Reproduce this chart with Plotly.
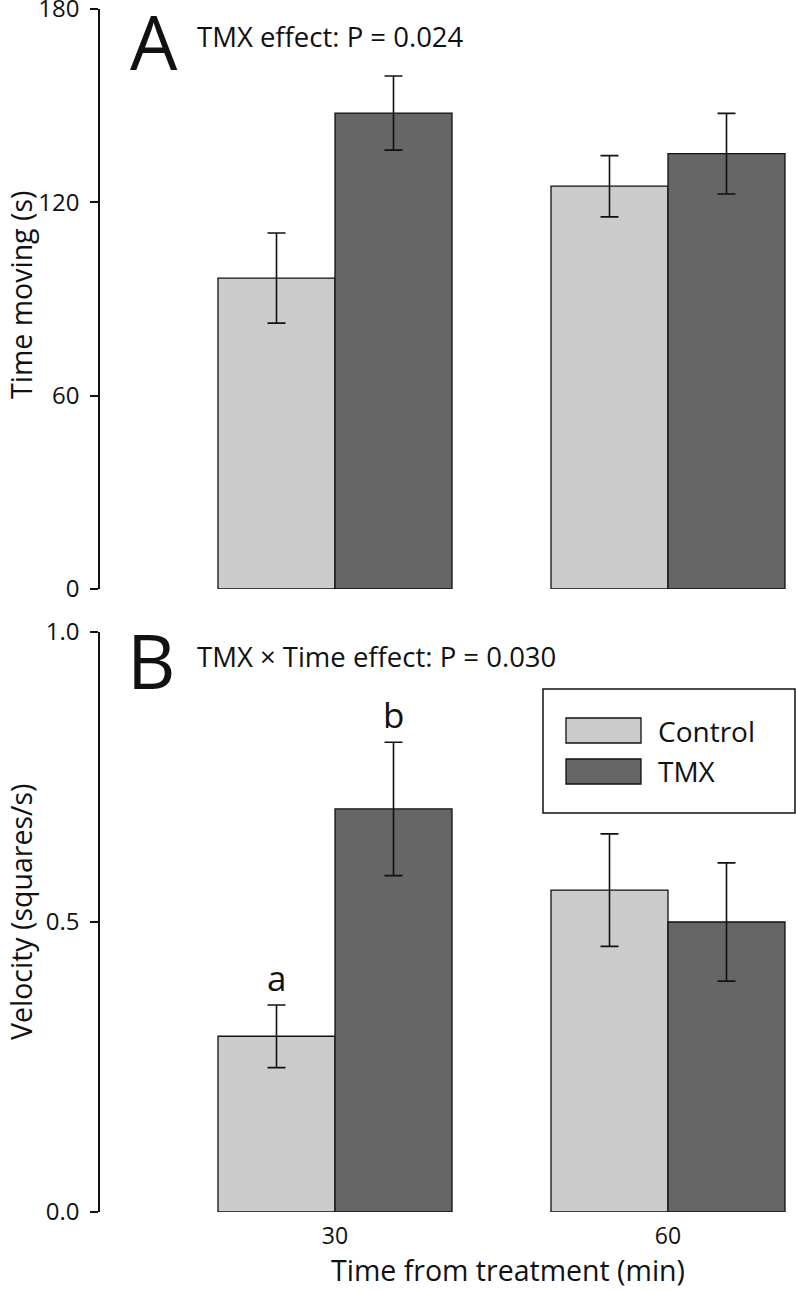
import plotly.graph_objects as go

# ---- data ----
times = ["30", "60"]
groups = ["Control", "TMX"]
moving_control = [96.5, 125.0]
moving_control_err = [14.0, 9.5]
moving_tmx = [147.7, 135.1]
moving_tmx_err = [11.5, 12.5]
vel_control = [0.303, 0.555]
vel_control_err = [0.054, 0.097]
vel_tmx = [0.695, 0.500]
vel_tmx_err = [0.115, 0.102]
colors = {"Control": "#cccccc", "TMX": "#666666"}

FONT = "Open Sans"
INK = "#111111"
W, H = 796, 1291
ML, MR, MT, MB = 100, 0, 9, 79


def px(xp):
    return (xp - ML) / (W - ML - MR)


def py(yp):
    return (H - MB - yp) / (H - MT - MB)


fig = go.Figure()


def add_bars(vals, errs, name, xa, ya):
    fig.add_trace(go.Bar(
        x=times, y=vals, name=name, xaxis=xa, yaxis=ya, showlegend=False,
        marker=dict(color=colors[name], line=dict(color=INK, width=1.3)),
        error_y=dict(type="data", array=errs, visible=True, color=INK,
                     thickness=1.6, width=9),
    ))


add_bars(moving_control, moving_control_err, "Control", "x", "y")
add_bars(moving_tmx, moving_tmx_err, "TMX", "x", "y")
add_bars(vel_control, vel_control_err, "Control", "x2", "y2")
add_bars(vel_tmx, vel_tmx_err, "TMX", "x2", "y2")

xrange_ = [-0.7057, 1.3844]
yaxis_common = dict(showline=True, linecolor=INK, linewidth=1.5,
                    ticks="outside", ticklen=8, tickwidth=1.5, tickcolor=INK,
                    showgrid=False, zeroline=False, ticklabelstandoff=6,
                    ticklabeloverflow="allow", automargin=False,
                    tickfont=dict(family=FONT, size=24, color=INK))

fig.update_layout(
    width=W, height=H,
    margin=dict(l=ML, r=MR, t=MT, b=MB, autoexpand=False),
    paper_bgcolor="white", plot_bgcolor="white",
    barmode="group", bargap=0.2973, bargroupgap=0,
    showlegend=False,
    font=dict(family=FONT, color=INK),
    xaxis=dict(domain=[0, 1], anchor="y", range=xrange_, type="category",
               showticklabels=False, showline=False, ticks="", showgrid=False,
               zeroline=False, automargin=False),
    yaxis=dict(domain=[py(589), 1], anchor="x", range=[0, 180],
               tickvals=[0, 60, 120, 180], **yaxis_common),
    xaxis2=dict(domain=[0, 1], anchor="y2", range=xrange_, type="category",
                showline=False, ticks="", showgrid=False, zeroline=False,
                automargin=False,
                tickfont=dict(family=FONT, size=23, color=INK),
                ticklabelstandoff=8),
    yaxis2=dict(domain=[0, py(632)], anchor="x2", range=[0, 1],
                tickvals=[0, 0.5, 1.0], tickformat=".1f", **yaxis_common),
)


def txt(text, x, y, size, xanchor="left", angle=0):
    return dict(text=text, x=px(x), y=py(y), xref="paper", yref="paper",
                xanchor=xanchor, yanchor="middle", textangle=angle,
                showarrow=False, font=dict(family=FONT, size=size, color=INK))


ann = [
    txt("A", 128, 41, 75),
    txt("B", 125, 660, 75),
    txt("TMX effect: P = 0.024", 195, 36, 27.5),
    txt("TMX \u00d7 Time effect: P = 0.030", 195, 656, 27.5),
    txt("Time moving (s)", 21, 295, 28.5, xanchor="center", angle=-90),
    txt("Velocity (squares/s)", 21, 912, 28.5, xanchor="center", angle=-90),
    txt("Time from treatment (min)", 508, 1270, 28.5, xanchor="center"),
    txt("Control", 656, 731, 28),
    txt("TMX", 656, 771, 28),
]
# significance letters
off = 0.1757
ann.append(dict(text="a", x=0 - off, y=vel_control[0] + vel_control_err[0],
                xref="x2", yref="y2", xanchor="center", yanchor="bottom", yshift=2,
                showarrow=False, font=dict(family=FONT, size=35, color=INK)))
ann.append(dict(text="b", x=0 + off, y=vel_tmx[0] + vel_tmx_err[0],
                xref="x2", yref="y2", xanchor="center", yanchor="bottom", yshift=2,
                showarrow=False, font=dict(family=FONT, size=35, color=INK)))

shapes = [
    dict(type="rect", xref="paper", yref="paper", x0=px(543), x1=px(795),
         y0=py(813), y1=py(689), line=dict(color=INK, width=1.5),
         fillcolor="white", layer="above"),
    dict(type="rect", xref="paper", yref="paper", x0=px(566), x1=px(641),
         y0=py(743), y1=py(718), line=dict(color=INK, width=1.3),
         fillcolor=colors["Control"], layer="above"),
    dict(type="rect", xref="paper", yref="paper", x0=px(566), x1=px(641),
         y0=py(784), y1=py(759), line=dict(color=INK, width=1.3),
         fillcolor=colors["TMX"], layer="above"),
]

fig.update_layout(annotations=ann, shapes=shapes)
fig.write_html("out.html",
               config={"displayModeBar": False},
               post_script="document.body.style.margin='0';"
                           "document.body.style.overflow='hidden';")
